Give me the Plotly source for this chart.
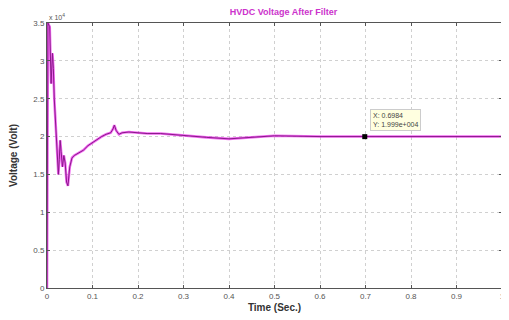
import plotly.graph_objects as go

# Time (s) and HVDC voltage after filter (Volt)
time_s = [0, 0.002, 0.006, 0.009, 0.012, 0.014, 0.016, 0.019, 0.022, 0.025, 0.027,
          0.029, 0.031, 0.034, 0.037, 0.040, 0.043, 0.046, 0.050, 0.055, 0.060,
          0.070, 0.080, 0.090, 0.100, 0.110, 0.120, 0.130, 0.140, 0.145, 0.148,
          0.152, 0.158, 0.165, 0.180, 0.200, 0.220, 0.250, 0.300, 0.350, 0.400,
          0.450, 0.500, 0.600, 0.700, 0.800, 0.900, 1.000]
voltage_v = [0, 35000, 34500, 27000, 31000, 29000, 25000, 21000, 18000, 15000, 17000,
             19500, 18000, 16000, 17500, 16500, 14000, 13500, 16000, 17200, 17500,
             17800, 18200, 18800, 19200, 19700, 20000, 20300, 20500, 21000, 21500,
             20800, 20300, 20500, 20600, 20500, 20400, 20400, 20100, 19900, 19700,
             19900, 20100, 20000, 20000, 20000, 20000, 20000]

scale = 1e4
y_scaled = [v / scale for v in voltage_v]

tip_x = 0.6984
tip_y = 19990

x_ticks = [0, 0.1, 0.2, 0.3, 0.4, 0.5, 0.6, 0.7, 0.8, 0.9, 1]
x_tick_text = ["0", "0.1", "0.2", "0.3", "0.4", "0.5", "0.6", "0.7", "0.8", "0.9", "1"]
y_ticks = [0, 0.5, 1, 1.5, 2, 2.5, 3, 3.5]
y_tick_text = ["0", "0.5", "1", "1.5", "2", "2.5", "3", "3.5"]

FONT = "Liberation Sans, Arial, sans-serif"

fig = go.Figure()
fig.add_trace(go.Scatter(x=time_s, y=y_scaled, mode="lines",
                         line=dict(color="rgba(235,40,235,0.7)", width=2.6),
                         showlegend=False, hoverinfo="skip"))
fig.add_trace(go.Scatter(x=time_s, y=y_scaled, mode="lines",
                         line=dict(color="#8a1a8a", width=1),
                         showlegend=False))
fig.add_trace(go.Scatter(x=[tip_x], y=[tip_y / scale], mode="markers",
                         marker=dict(color="black", size=5, symbol="square"),
                         showlegend=False))

font_small = dict(family=FONT, size=8, color="#555")

fig.update_layout(
    width=501, height=312,
    margin=dict(l=39, r=4, t=15, b=32),
    paper_bgcolor="white", plot_bgcolor="white",
    title=dict(text="<b>HVDC Voltage After Filter</b>", x=0.55, xref="container",
               xanchor="center", y=0.987, yanchor="middle",
               font=dict(family=FONT, size=9, color="#cc33cc")),
    xaxis=dict(range=[0, 1], tickvals=x_ticks, ticktext=x_tick_text,
               showgrid=True, gridcolor="#d0d0d0", griddash="dot", gridwidth=1,
               showline=True, linecolor="#555", linewidth=1, mirror="ticks",
               ticks="inside", ticklen=3, tickcolor="#555", zeroline=False,
               tickfont=font_small,
               title=dict(text="<b>Time (Sec.)</b>", standoff=4,
                          font=dict(family=FONT, size=10, color="#333"))),
    yaxis=dict(range=[0, 3.5], tickvals=y_ticks, ticktext=y_tick_text,
               showgrid=True, gridcolor="#d0d0d0", griddash="dot", gridwidth=1,
               showline=True, linecolor="#555", linewidth=1, mirror="ticks",
               ticks="inside", ticklen=3, tickcolor="#555", zeroline=False,
               tickfont=font_small,
               title=dict(text="<b>Voltage (Volt)</b>", standoff=13,
                          font=dict(family=FONT, size=10, color="#333"))),
    annotations=[
        dict(text="x 10<sup>4</sup>", xref="paper", yref="paper", x=0, y=1,
             xanchor="left", yanchor="bottom", showarrow=False,
             font=dict(family=FONT, size=7, color="#555")),
        dict(text="X: %.4f<br>Y: %.3fe+004" % (tip_x, tip_y / scale), x=tip_x, y=tip_y / scale,
             xref="x", yref="y", xanchor="left", yanchor="bottom", showarrow=False,
             xshift=5, yshift=6, align="left", bgcolor="#ffffe0", bordercolor="#ccc",
             borderwidth=1, borderpad=2,
             font=dict(family=FONT, size=7, color="#444")),
    ],
)

fig.write_html("out.html")
